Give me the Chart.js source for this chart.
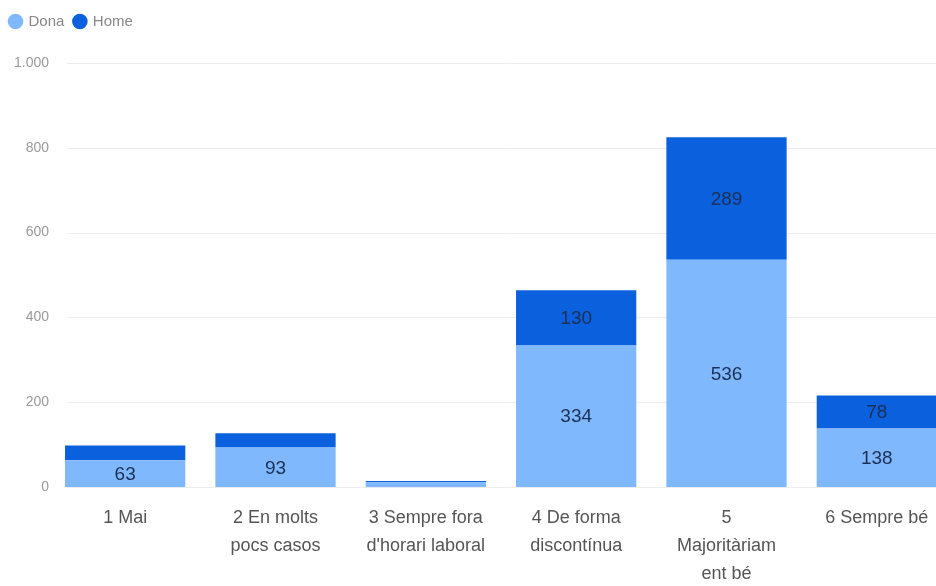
<!DOCTYPE html>
<html>
<head>
<meta charset="utf-8">
<script src="https://cdn.jsdelivr.net/npm/chart.js@4.4.1/dist/chart.umd.min.js"></script>
<style>
    html, body { margin: 0; padding: 0; background: #fff; overflow: hidden; }
    .chart-wrap { position: relative; width: 952px; height: 586px; }
</style>
</head>
<body>
<div class="chart-wrap"><canvas id="freqChart"></canvas></div>
<script>
const categories = [
    '1 Mai',
    ['2 En molts', 'pocs casos'],
    ['3 Sempre fora', "d'horari laboral"],
    ['4 De forma', 'discontínua'],
    ['5', 'Majoritàriam', 'ent bé'],
    '6 Sempre bé'
];
const donaValues = [63, 93, 11, 334, 536, 138];
const homeValues = [35, 34, 3, 130, 289, 78];
const yTicks = [0, 200, 400, 600, 800, 1000];

const FONT = "'Liberation Sans', Arial, sans-serif";

function formatThousands(v) {
    return String(v).replace(/\B(?=(\d{3})+(?!\d))/g, '.');
}

// extra room between the legend and the plot
const legendSpacer = {
    id: 'legendSpacer',
    beforeInit(chart) {
        const fit = chart.legend.fit;
        chart.legend.fit = function () {
            fit.bind(chart.legend)();
            this.height += 24;
        };
    }
};

// light horizontal grid lines, starting a little right of the axis labels
const gridLines = {
    id: 'gridLines',
    beforeDatasetsDraw(chart) {
        const { ctx, chartArea, scales } = chart;
        ctx.save();
        ctx.strokeStyle = '#ececec';
        ctx.lineWidth = 1;
        yTicks.forEach(t => {
            const y = Math.round(scales.y.getPixelForValue(t)) + 0.5;
            ctx.beginPath();
            ctx.moveTo(chartArea.left + 17, y);
            ctx.lineTo(chartArea.right, y);
            ctx.stroke();
        });
        ctx.restore();
    }
};

// value labels inside each segment, skipped when the segment is too thin
const segmentLabels = {
    id: 'segmentLabels',
    afterDatasetsDraw(chart) {
        const { ctx } = chart;
        ctx.save();
        ctx.font = "19px " + FONT;
        ctx.fillStyle = '#1c2f55';
        ctx.textAlign = 'center';
        ctx.textBaseline = 'middle';
        chart.data.datasets.forEach((ds, di) => {
            chart.getDatasetMeta(di).data.forEach((bar, i) => {
                const h = Math.abs(bar.base - bar.y);
                if (h < 24) return;
                ctx.fillText(ds.data[i], bar.x, (bar.y + bar.base) / 2 + 1);
            });
        });
        ctx.restore();
    }
};

const ctx = document.getElementById('freqChart').getContext('2d');
new Chart(ctx, {
    type: 'bar',
    data: {
        labels: categories,
        datasets: [{
            label: 'Dona',
            data: donaValues,
            backgroundColor: '#80b8fd',
            borderWidth: 0,
            barPercentage: 0.8,
            categoryPercentage: 1
        }, {
            label: 'Home',
            data: homeValues,
            backgroundColor: '#0b60dd',
            borderWidth: 0,
            barPercentage: 0.8,
            categoryPercentage: 1
        }]
    },
    options: {
        responsive: true,
        maintainAspectRatio: false,
        animation: false,
        layout: { padding: { top: 4, bottom: 0 } },
        plugins: {
            legend: {
                display: true,
                position: 'top',
                align: 'start',
                labels: {
                    usePointStyle: true,
                    pointStyle: 'circle',
                    boxWidth: 11,
                    boxHeight: 11,
                    padding: 10,
                    color: '#888',
                    font: { family: FONT, size: 15 }
                }
            },
            tooltip: { enabled: false }
        },
        scales: {
            x: {
                stacked: true,
                grid: { display: false, drawTicks: false },
                border: { display: false },
                afterFit(scale) { scale.height = 99; },
                ticks: {
                    color: '#555',
                    padding: 17,
                    maxRotation: 0,
                    autoSkip: false,
                    font: { family: FONT, size: 18, lineHeight: 28 / 18 }
                }
            },
            y: {
                stacked: true,
                min: 0,
                max: 1000,
                grid: { display: false, drawTicks: false },
                border: { display: false },
                afterFit(scale) { scale.width = 50; },
                ticks: {
                    stepSize: 200,
                    color: '#999',
                    padding: 1,
                    font: { family: FONT, size: 14 },
                    callback: v => formatThousands(v)
                }
            }
        }
    },
    plugins: [legendSpacer, gridLines, segmentLabels]
});
</script>
</body>
</html>
